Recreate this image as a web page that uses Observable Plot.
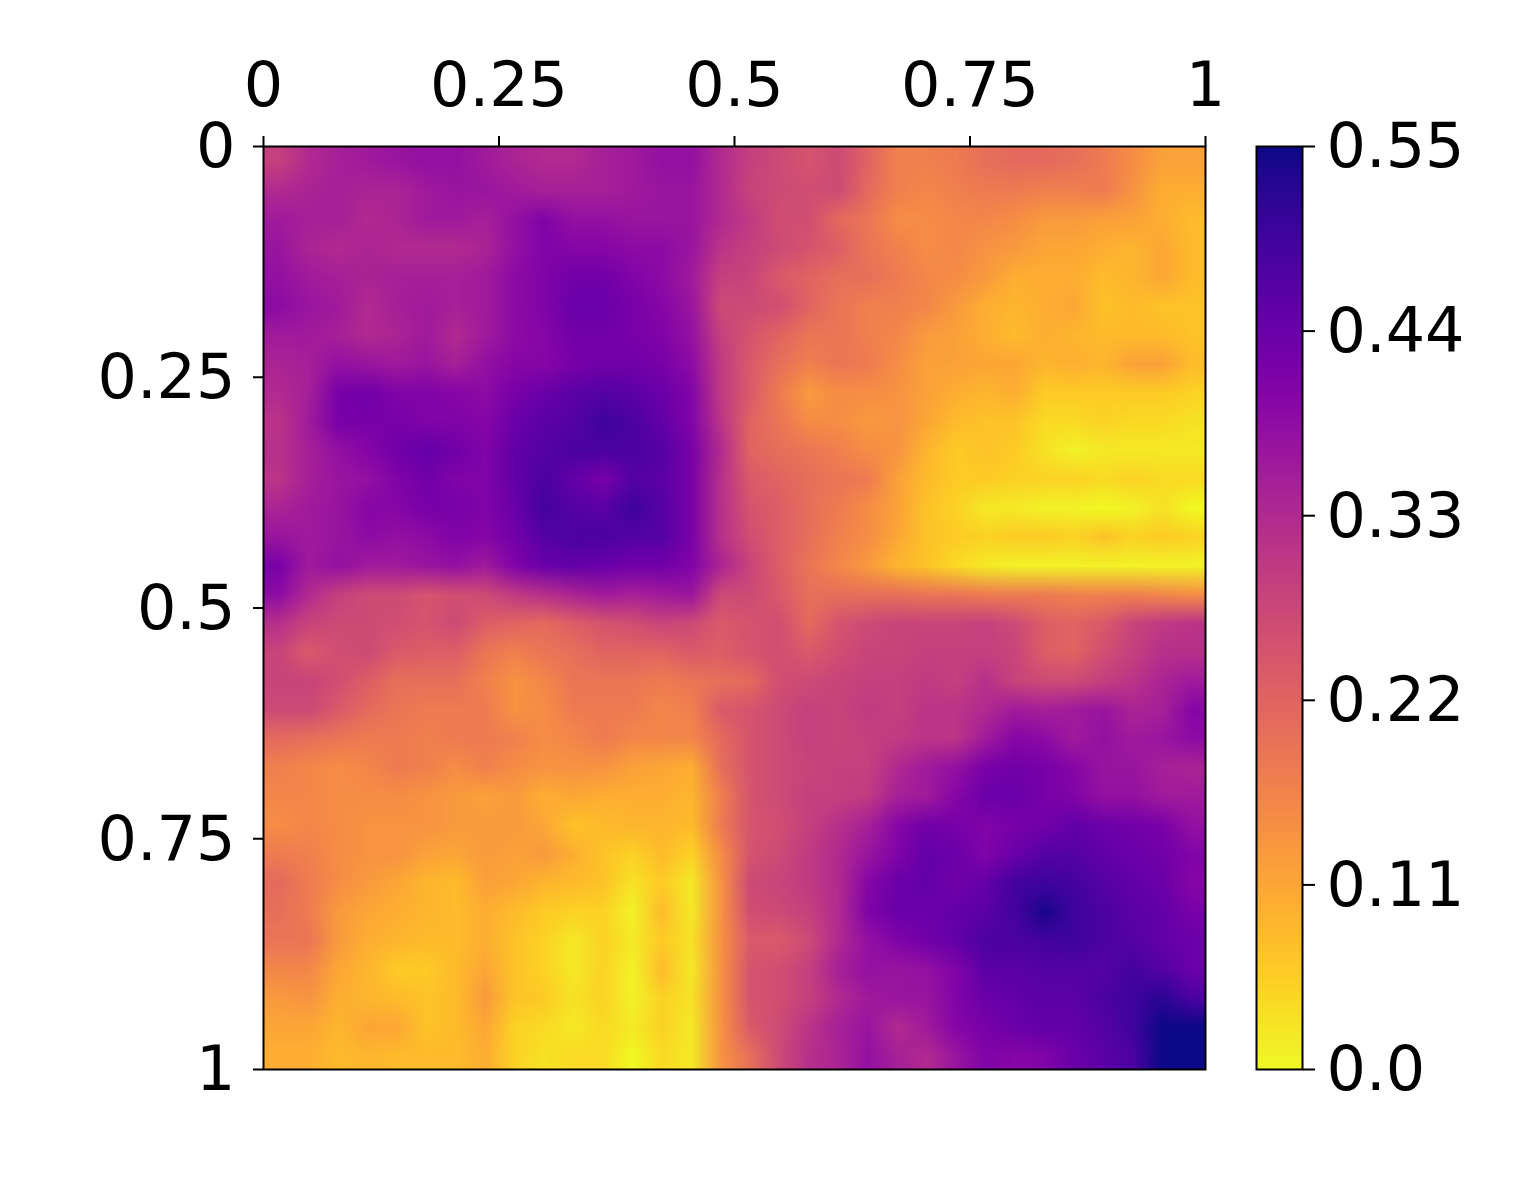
<!DOCTYPE html>
<html><head><meta charset="utf-8">
<script src="https://cdn.jsdelivr.net/npm/d3@7"></script>
<script src="https://cdn.jsdelivr.net/npm/@observablehq/plot@0.6"></script>
<style>
html,body{margin:0;padding:0;background:#fff;}
#c{position:relative;width:1535px;height:1184px;overflow:hidden;}
#c svg{position:absolute;top:0;background:transparent;}
</style></head><body><div id="c"></div>
<script>
const axisTicks = [0, 0.25, 0.5, 0.75, 1];
const barTicks = [0, 0.11, 0.22, 0.33, 0.44, 0.55];
const barLabels = ["0.0", "0.11", "0.22", "0.33", "0.44", "0.55"];
// heat values in hundredths, 32 rows by 32 columns
const grid = [
[29,33,35,36,37,38,38,36,34,33,33,35,36,38,38,33, 29,27,25,27,22,17,17,18,20,21,21,20,18,15,12,12],
[33,34,35,34,34,36,37,37,36,35,35,35,36,37,37,33, 28,27,26,27,21,17,16,17,18,18,17,17,18,14,10,10],
[36,35,35,33,34,36,36,35,38,41,38,38,37,37,37,33, 30,26,26,21,19,15,15,16,16,15,13,13,12,12,10,8],
[37,34,33,34,33,33,33,34,38,41,40,40,39,39,37,31, 29,27,25,23,19,17,15,16,14,13,11,11,10,9,11,8],
[38,36,35,34,35,35,35,36,39,41,43,43,41,39,36,29, 28,24,22,20,20,18,16,15,13,10,10,10,8,9,11,8],
[39,37,36,33,35,36,35,36,39,41,44,44,42,40,37,27, 27,26,22,19,17,17,16,13,10,9,10,11,7,8,7,7],
[36,36,35,33,34,36,33,36,39,40,43,43,42,41,38,29, 25,22,19,19,17,16,13,12,10,8,10,9,8,8,8,7],
[34,35,38,37,36,37,35,38,40,40,42,43,43,42,39,30, 24,20,17,19,18,15,12,12,11,11,9,10,9,12,12,8],
[33,35,42,43,41,41,40,39,42,44,46,47,46,44,41,30, 24,18,13,15,15,14,12,10,9,10,6,6,6,6,6,5],
[31,36,42,42,42,41,41,40,44,46,47,50,48,45,41,31, 22,19,15,15,13,14,11,8,7,7,4,4,5,4,4,3],
[32,35,38,40,43,45,43,41,45,47,48,48,48,47,42,33, 22,20,19,17,15,14,9,6,7,6,3,1,2,2,2,2],
[31,35,37,38,41,43,41,41,45,48,45,42,47,46,42,32, 24,22,20,19,18,12,8,6,6,5,5,5,4,5,4,4],
[34,36,37,40,40,42,42,41,44,49,47,46,50,47,42,32, 25,23,20,18,15,12,7,5,2,2,1,1,0,1,3,0],
[37,36,37,39,38,39,41,40,43,47,48,48,47,47,42,32, 26,23,20,17,15,11,7,6,5,6,6,5,7,5,6,5],
[42,36,38,36,36,37,38,36,41,44,45,44,43,43,41,34, 28,23,19,16,13,9,7,4,2,1,1,1,1,1,1,1],
[39,33,29,27,27,25,26,27,30,32,34,36,35,36,37,27, 27,24,20,20,20,20,19,19,18,18,18,17,17,17,16,15],
[32,28,27,27,26,25,27,23,22,21,23,25,26,28,27,24, 25,26,21,25,27,28,28,28,29,27,23,22,24,28,30,31],
[28,24,26,27,24,23,23,19,17,19,20,22,22,22,24,23, 25,26,24,26,28,28,29,29,29,28,23,22,26,29,32,32],
[28,28,26,23,20,20,20,17,14,16,19,19,19,18,19,20, 21,26,27,28,29,29,30,29,32,28,27,27,29,31,34,36],
[27,27,24,21,19,18,18,18,14,15,18,18,18,16,17,24, 25,27,29,28,30,29,31,31,33,36,35,36,37,34,35,40],
[21,20,19,18,18,17,18,18,17,15,16,18,16,16,16,21, 25,27,29,28,29,30,31,31,36,40,39,36,38,36,37,39],
[17,16,15,16,18,17,15,17,15,14,14,14,12,11,10,20, 25,27,28,29,29,33,36,38,42,43,42,40,37,37,35,34],
[16,16,15,15,15,14,13,12,13,10,11,10,10,10,9,17, 25,27,29,29,30,35,36,40,44,44,42,41,38,38,36,36],
[15,16,15,14,14,14,13,13,13,11,7,8,9,9,8,18, 25,26,29,32,35,40,43,42,41,42,43,45,44,43,42,38],
[18,17,15,14,14,12,11,13,12,13,10,7,5,8,5,15, 25,27,30,33,37,41,45,44,41,44,47,47,45,44,43,41],
[21,18,15,13,11,9,8,12,11,9,8,7,3,6,2,14, 27,28,30,33,40,44,45,43,45,49,50,49,47,45,44,40],
[20,18,13,11,10,9,8,10,8,6,5,5,1,8,2,14, 26,27,29,33,41,44,44,45,46,49,54,50,48,46,45,42],
[19,19,13,10,9,8,8,10,7,5,2,5,2,6,3,14, 24,24,27,33,38,41,43,45,48,48,49,50,48,47,45,44],
[16,16,11,9,6,6,8,11,7,5,2,5,1,8,2,14, 25,26,29,35,38,37,38,41,46,46,47,47,47,49,47,44],
[13,14,10,9,8,7,8,13,7,6,3,5,1,5,3,14, 25,26,29,33,36,37,37,41,44,45,46,46,48,50,52,48],
[11,11,9,11,11,7,8,11,5,4,2,4,2,5,2,14, 24,27,31,35,37,33,36,40,42,44,45,45,47,50,55,55],
[10,10,8,9,8,8,8,10,5,3,4,4,0,4,2,14, 20,27,32,34,38,35,33,37,41,40,41,44,46,48,55,55]
];
const nCols = grid[0].length, nRows = grid.length;
const values = grid.flat().map(v => v / 100);
const colorOpts = {type: "linear", scheme: "plasma", reverse: true, domain: [0, 0.55]};
const style = {fontFamily: "'DejaVu Sans', sans-serif", fontSize: "62px", color: "#000", overflow: "visible"};
const fmt = d => String(d);

const main = Plot.plot({
  width: 1535, height: 1184,
  marginLeft: 263, marginRight: 330, marginTop: 146, marginBottom: 115,
  style,
  x: {domain: [0, 1]}, y: {domain: [0, 1], reverse: true},
  color: colorOpts,
  marks: [
    Plot.raster(values, {fill: d => d, width: nCols, height: nRows, x1: 0, x2: 1, y1: 0, y2: 1}),
    Plot.frame({stroke: "#000", strokeWidth: 2}),
    Plot.axisX({anchor: "top", ticks: axisTicks, tickFormat: fmt, tickSize: 11, tickPadding: 30, strokeWidth: 2, label: null, fontSize: 62}),
    Plot.axisY({anchor: "left", ticks: axisTicks, text: null, tickSize: 10, strokeWidth: 2, label: null}),
    Plot.axisY({anchor: "left", ticks: axisTicks, tickFormat: fmt, tickSize: 0, tickPadding: 28, label: null, fontSize: 62, dy: 1})
  ]
});
const barOffset = 1200;
const bar = Plot.plot({
  width: 335, height: 1184,
  marginLeft: 56, marginRight: 233, marginTop: 146, marginBottom: 115,
  style,
  x: {domain: [0, 1], axis: null}, y: {domain: [0, 0.55]},
  color: colorOpts,
  marks: [
    Plot.raster({fill: (x, y) => y, width: 1, height: 256, x1: 0, x2: 1, y1: 0, y2: 0.55}),
    Plot.frame({stroke: "#000", strokeWidth: 2}),
    Plot.axisY({anchor: "right", ticks: barTicks, text: null, tickSize: 12, strokeWidth: 2, label: null}),
    Plot.axisY({anchor: "right", ticks: barTicks, tickFormat: (d, i) => barLabels[i], tickSize: 0, tickPadding: 24, label: null, fontSize: 62, dy: 1})
  ]
});
bar.style.left = barOffset + "px";
main.style.left = "0px";
const c = document.getElementById("c");
c.append(main, bar);
</script></body></html>
